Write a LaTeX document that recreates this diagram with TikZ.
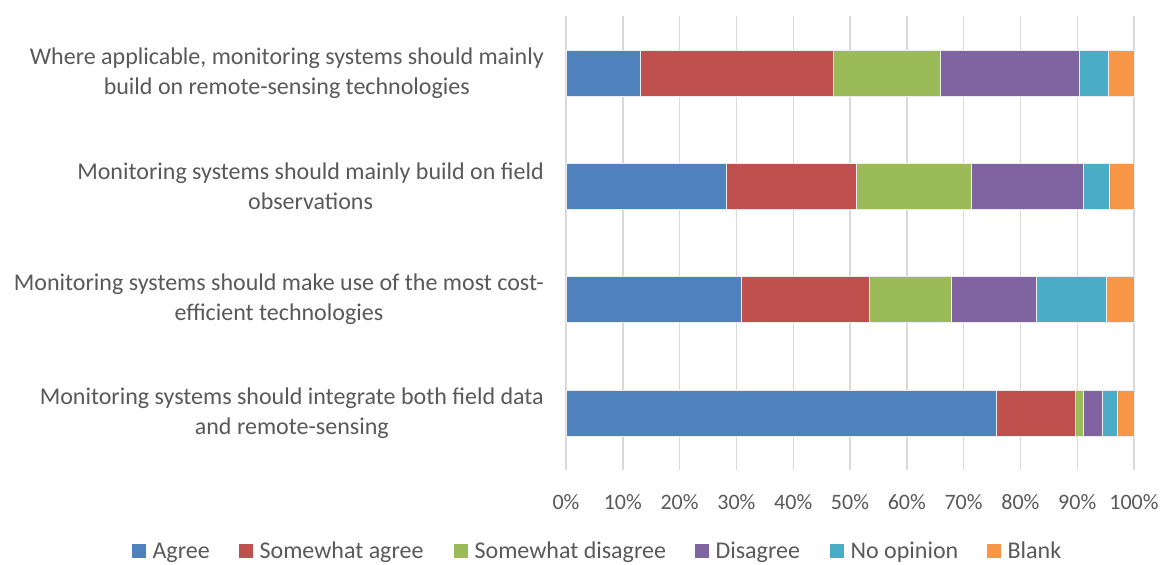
\documentclass[tikz,border=0pt]{standalone}
\usepackage{fontspec}
\setmainfont{Carlito}
\usetikzlibrary{positioning}

\definecolor{agree}{HTML}{4F81BD}
\definecolor{swagree}{HTML}{C0504D}
\definecolor{swdisagree}{HTML}{9BBB59}
\definecolor{disagree}{HTML}{8064A2}
\definecolor{noopinion}{HTML}{4BACC6}
\definecolor{blank}{HTML}{F79646}
\definecolor{txtgray}{HTML}{595959}
\definecolor{gridgray}{HTML}{D9D9D9}

\begin{document}
\begin{tikzpicture}[x=1pt,y=-1pt,
    every node/.style={text=txtgray,font=\fontsize{24}{30}\selectfont},
    seg/.style={draw=white!85!gray,line width=0.6pt},
    question/.style={anchor=east,align=center,inner sep=0pt},
    tick/.style={anchor=center,inner sep=0pt,font=\fontsize{22}{26}\selectfont},
    keybox/.style={minimum size=14pt,inner sep=0pt,anchor=west},
    keytext/.style={inner sep=0pt}]

  \useasboundingbox[fill=white] (0,0) rectangle (1163,565);

  % grid and axis labels, in percent
  \begin{scope}[shift={(566,0)},x=5.68pt]
    \foreach \p in {0,10,...,100}{
      \draw[gridgray,line width=1.4pt] (\p,16) -- (\p,470);
      \node[tick] (t\p) at (\p,502) {\p\%};
    }

    % bar 1
    \fill[agree,seg]      (0,50)    rectangle (13.0,96);
    \fill[swagree,seg]    (13.0,50) rectangle (47.0,96);
    \fill[swdisagree,seg] (47.0,50) rectangle (65.9,96);
    \fill[disagree,seg]   (65.9,50) rectangle (90.4,96);
    \fill[noopinion,seg]  (90.4,50) rectangle (95.5,96);
    \fill[blank,seg]      (95.5,50) rectangle (100,96);

    % bar 2
    \fill[agree,seg]      (0,163.3)    rectangle (28.3,209.3);
    \fill[swagree,seg]    (28.3,163.3) rectangle (51.1,209.3);
    \fill[swdisagree,seg] (51.1,163.3) rectangle (71.3,209.3);
    \fill[disagree,seg]   (71.3,163.3) rectangle (91.0,209.3);
    \fill[noopinion,seg]  (91.0,163.3) rectangle (95.7,209.3);
    \fill[blank,seg]      (95.7,163.3) rectangle (100,209.3);

    % bar 3
    \fill[agree,seg]      (0,276.7)    rectangle (30.8,322.7);
    \fill[swagree,seg]    (30.8,276.7) rectangle (53.4,322.7);
    \fill[swdisagree,seg] (53.4,276.7) rectangle (67.8,322.7);
    \fill[disagree,seg]   (67.8,276.7) rectangle (82.8,322.7);
    \fill[noopinion,seg]  (82.8,276.7) rectangle (95.1,322.7);
    \fill[blank,seg]      (95.1,276.7) rectangle (100,322.7);

    % bar 4
    \fill[agree,seg]      (0,390)    rectangle (75.7,436);
    \fill[swagree,seg]    (75.7,390) rectangle (89.7,436);
    \fill[swdisagree,seg] (89.7,390) rectangle (91.1,436);
    \fill[disagree,seg]   (91.1,390) rectangle (94.5,436);
    \fill[noopinion,seg]  (94.5,390) rectangle (97.0,436);
    \fill[blank,seg]      (97.0,390) rectangle (100,436);
  \end{scope}

  % questions
  \node[question] (q1) at (544,73)    {Where applicable, monitoring systems should mainly\\build on remote-sensing technologies};
  \node[question] (q2) at (544,186.3) {Monitoring systems should mainly build on field\\observations};
  \node[question] (q3) at (544,299.7) {Monitoring systems should make use of the most cost-\\efficient technologies};
  \node[question] (q4) at (544,413)   {Monitoring systems should integrate both field data\\and remote-sensing};

  % legend
  \node[keybox,fill=agree]      (k1) at (132,551) {};
  \node[keytext] (l1) [right=6pt of k1.south east,anchor=base west] {Agree};
  \node[keybox,fill=swagree]    (k2) at (239,551) {};
  \node[keytext] (l2) [right=6pt of k2.south east,anchor=base west] {Somewhat agree};
  \node[keybox,fill=swdisagree] (k3) at (454,551) {};
  \node[keytext] (l3) [right=6pt of k3.south east,anchor=base west] {Somewhat disagree};
  \node[keybox,fill=disagree]   (k4) at (695,551) {};
  \node[keytext] (l4) [right=6pt of k4.south east,anchor=base west] {Disagree};
  \node[keybox,fill=noopinion]  (k5) at (830,551) {};
  \node[keytext] (l5) [right=6pt of k5.south east,anchor=base west] {No opinion};
  \node[keybox,fill=blank]      (k6) at (987,551) {};
  \node[keytext] (l6) [right=6pt of k6.south east,anchor=base west] {Blank};
\end{tikzpicture}
\end{document}
